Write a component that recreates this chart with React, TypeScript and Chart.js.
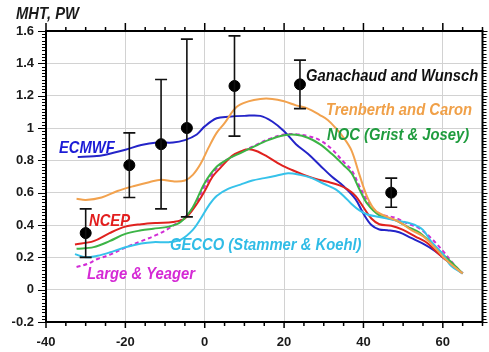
import React, { useEffect, useRef } from "react";
import { Chart, registerables } from "chart.js";

Chart.register(...registerables);

// Ganachaud and Wunsch estimates with error ranges
const gwLat = [-30, -19, -11, -4.5, 7.5, 24, 47];
const gwValue = [0.35, 0.77, 0.9, 1.0, 1.26, 1.27, 0.6];
const gwLow = [0.2, 0.57, 0.5, 0.45, 0.95, 1.12, 0.51];
const gwHigh = [0.5, 0.97, 1.3, 1.55, 1.57, 1.42, 0.69];

const ecmwfLat = [-32, -28, -25, -20, -16, -12, -8, -5, -2, 0, 3, 6, 10, 14, 17, 20, 23, 26, 29, 32, 35, 38, 40, 42, 44, 46, 49, 52, 55, 58, 61, 63, 65];
const ecmwfVal = [0.82, 0.825, 0.835, 0.865, 0.895, 0.91, 0.91, 0.925, 0.96, 1.01, 1.06, 1.07, 1.075, 1.075, 1.04, 0.98, 0.9, 0.84, 0.77, 0.7, 0.64, 0.56, 0.47, 0.4, 0.372, 0.368, 0.355, 0.32, 0.285, 0.24, 0.18, 0.14, 0.1];

const trenLat = [-32.3, -30, -26, -22, -18, -14, -11, -8, -5, -3, -1, 1, 3, 5, 8, 11, 14, 17, 20, 23, 26, 29, 31, 33, 35, 37, 39, 41, 43, 46, 49, 52, 55, 58, 61, 65];
const trenVal = [0.563, 0.555, 0.57, 0.61, 0.64, 0.665, 0.68, 0.67, 0.675, 0.71, 0.78, 0.88, 0.97, 1.03, 1.13, 1.165, 1.18, 1.18, 1.165, 1.14, 1.12, 1.08, 1.05, 1.0, 0.94, 0.86, 0.71, 0.57, 0.49, 0.45, 0.42, 0.37, 0.33, 0.26, 0.18, 0.1];

const nocLat = [-32.3, -28, -24, -20, -16, -13, -9, -6, -3, 0, 3, 6, 9, 12, 16, 20, 23, 26, 29, 32, 35, 37, 39, 41, 44, 48, 51, 54, 57, 60, 63, 65];
const nocVal = [0.253, 0.263, 0.3, 0.345, 0.367, 0.377, 0.39, 0.42, 0.51, 0.66, 0.76, 0.81, 0.845, 0.88, 0.925, 0.955, 0.958, 0.94, 0.9, 0.84, 0.77, 0.72, 0.62, 0.53, 0.46, 0.43, 0.39, 0.355, 0.29, 0.22, 0.15, 0.1];

const lyLat = [-32.3, -29.5, -27, -24, -20, -16, -12, -9, -6, -3, 0, 3, 6, 9, 12, 16, 20, 23, 26, 29, 32, 35, 37, 39, 41, 44, 48, 51, 54, 57, 60, 63, 65];
const lyVal = [0.14, 0.16, 0.19, 0.215, 0.26, 0.3, 0.34, 0.38, 0.43, 0.5, 0.64, 0.75, 0.81, 0.85, 0.885, 0.93, 0.96, 0.962, 0.95, 0.925, 0.87, 0.79, 0.74, 0.64, 0.55, 0.47, 0.445, 0.41, 0.38, 0.32, 0.24, 0.15, 0.1];

const ncepLat = [-32.7, -28, -24, -20, -16, -12, -8, -5, -2, 0, 2, 4, 7, 9, 11, 13, 16, 19, 22, 25, 28, 31, 34, 36, 38, 40, 42, 44, 47, 50, 53, 56, 59, 62, 65];
const ncepVal = [0.28, 0.3, 0.35, 0.39, 0.405, 0.413, 0.418, 0.44, 0.53, 0.61, 0.7, 0.755, 0.83, 0.855, 0.868, 0.858, 0.82, 0.775, 0.74, 0.71, 0.685, 0.667, 0.645, 0.62, 0.58, 0.51, 0.44, 0.405, 0.395, 0.37, 0.33, 0.29, 0.22, 0.16, 0.1];

const geccoLat = [-32.7, -30, -27, -24, -20, -16, -13, -9, -6, -3, -1, 1, 3, 6, 9, 12, 15, 18, 21, 24, 27, 30, 33, 35, 37, 39, 41, 44, 48, 51, 53, 55, 57, 60, 62, 65];
const geccoVal = [0.22, 0.2, 0.21, 0.23, 0.262, 0.285, 0.294, 0.294, 0.31, 0.37, 0.44, 0.52, 0.58, 0.625, 0.65, 0.675, 0.69, 0.705, 0.72, 0.71, 0.69, 0.655, 0.62, 0.58, 0.53, 0.49, 0.465, 0.45, 0.43, 0.415, 0.4, 0.37, 0.3, 0.22, 0.15, 0.1];

const seriesNames = [
  "Ganachaud and Wunsch",
  "ECMWF",
  "Trenberth and Caron",
  "NOC (Grist & Josey)",
  "Large & Yeager",
  "NCEP",
  "GECCO (Stammer & Koehl)",
];
const yAxisTitle = "MHT, PW";
const xTickStep = 20;
const yTickStep = 0.2;

const FONT = '"Liberation Sans", Arial, sans-serif';

const zip = (xs: number[], ys: number[]) => xs.map((x, i) => ({ x, y: ys[i] }));

export default function App() {
  const ref = useRef<HTMLCanvasElement>(null);

  useEffect(() => {
    if (!ref.current) return;

    const lineDs = (label: string, xs: number[], ys: number[], color: string, dash?: number[]) => ({
      type: "line" as const,
      label,
      data: zip(xs, ys),
      borderColor: color,
      backgroundColor: color,
      borderWidth: 2,
      borderDash: dash || [],
      pointRadius: 0,
      tension: 0.35,
      fill: false,
      order: 2,
    });

    const overlay = {
      id: "overlay",
      afterDatasetsDraw(chart: any) {
        const ctx = chart.ctx;
        const xs = chart.scales.x;
        const ys = chart.scales.y;
        const a = chart.chartArea;
        ctx.save();
        // error bars
        ctx.strokeStyle = "#111";
        ctx.lineWidth = 1.6;
        gwLat.forEach((lat, i) => {
          const px = xs.getPixelForValue(lat);
          const pl = ys.getPixelForValue(gwLow[i]);
          const ph = ys.getPixelForValue(gwHigh[i]);
          ctx.beginPath();
          ctx.moveTo(px, pl);
          ctx.lineTo(px, ph);
          ctx.moveTo(px - 6, pl);
          ctx.lineTo(px + 6, pl);
          ctx.moveTo(px - 6, ph);
          ctx.lineTo(px + 6, ph);
          ctx.stroke();
        });
        // frame
        ctx.strokeStyle = "#000";
        ctx.lineWidth = 2;
        ctx.strokeRect(a.left, a.top, a.right - a.left, a.bottom - a.top);
        // ticks
        ctx.lineWidth = 1.5;
        ctx.beginPath();
        for (let v = -40; v <= 70.001; v += 5) {
          const px = xs.getPixelForValue(v);
          const major = Math.abs(v % 20) < 1e-6;
          const l = major ? 6 : 4;
          ctx.moveTo(px, a.bottom);
          ctx.lineTo(px, a.bottom + l);
          ctx.moveTo(px, a.top);
          ctx.lineTo(px, a.top - (major ? 8 : 4));
        }
        ctx.stroke();
        ctx.lineWidth = 1;
        ctx.beginPath();
        for (let k = 0; k <= 90; k++) {
          const v = -0.2 + k * 0.02;
          const py = Math.round(ys.getPixelForValue(v)) + 0.5;
          const major = k % 10 === 0;
          const l = major ? 8 : 4;
          ctx.moveTo(a.left, py);
          ctx.lineTo(a.left - l, py);
          ctx.moveTo(a.right, py);
          ctx.lineTo(a.right + (major ? 5 : 4), py);
        }
        ctx.stroke();
        // text labels
        const txt = (s: string, x: number, y: number, color: string) => {
          ctx.save();
          ctx.font = `italic bold 17px ${FONT}`;
          ctx.fillStyle = color;
          ctx.textBaseline = "middle";
          ctx.textAlign = "left";
          ctx.translate(x, y);
          ctx.scale(0.87, 1);
          ctx.fillText(s, 0, 0);
          ctx.restore();
        };
        txt(yAxisTitle, 16, 14, "#1a1a1a");
        txt(seriesNames[0], 306, 76, "#111111");
        txt(seriesNames[1], 59, 148, "#1c1cd6");
        txt(seriesNames[2], 326, 110, "#f0a048");
        txt(seriesNames[3], 327, 135, "#1f9c3e");
        txt(seriesNames[4], 87, 274, "#d52ad5");
        txt(seriesNames[5], 89, 221, "#e21e1e");
        txt(seriesNames[6], 170, 245, "#30bce6");
        ctx.restore();
      },
    };

    const chart = new Chart(ref.current, {
      type: "scatter",
      data: {
        datasets: [
          {
            type: "scatter" as const,
            label: seriesNames[0],
            data: zip(gwLat, gwValue),
            backgroundColor: "#000",
            borderColor: "#000",
            pointRadius: 5.5,
            order: 0,
          },
          lineDs(seriesNames[2], trenLat, trenVal, "#f2a24e"),
          lineDs(seriesNames[6], geccoLat, geccoVal, "#36c2ea"),
          lineDs(seriesNames[3], nocLat, nocVal, "#3cb446"),
          lineDs(seriesNames[5], ncepLat, ncepVal, "#e0221e"),
          lineDs(seriesNames[1], ecmwfLat, ecmwfVal, "#2424c8"),
          lineDs(seriesNames[4], lyLat, lyVal, "#d22cd6", [4, 3]),
        ] as any,
      },
      options: {
        responsive: false,
        animation: false,
        layout: { padding: { left: 0, right: 6, top: 31, bottom: 0 } },
        plugins: { legend: { display: false }, tooltip: { enabled: false } },
        scales: {
          x: {
            type: "linear",
            min: -40,
            max: 70,
            border: { display: false },
            grid: { color: "#d2d2d2", lineWidth: 1, drawTicks: false },
            ticks: {
              stepSize: xTickStep,
              includeBounds: false,
              padding: 13,
              color: "#1a1a1a",
              font: { family: FONT, size: 13, weight: "bold" },
              maxRotation: 0,
            },
            afterFit: (s: any) => {
              s.height = 30;
            },
          },
          y: {
            type: "linear",
            min: -0.2,
            max: 1.6,
            border: { display: false },
            grid: { color: "#d2d2d2", lineWidth: 1, drawTicks: false },
            ticks: {
              stepSize: yTickStep,
              padding: 12,
              color: "#1a1a1a",
              font: { family: FONT, size: 13, weight: "bold" },
              callback: (v: any) => String(Number(Number(v).toFixed(1))),
            },
            afterFit: (s: any) => {
              s.width = 46;
            },
          },
        },
      } as any,
      plugins: [overlay],
    });
    return () => chart.destroy();
  }, []);

  return (
    <div style={{ position: "fixed", left: 0, top: 0, width: 489, height: 352, background: "#fff" }}>
      <canvas ref={ref} width={489} height={352} style={{ width: 489, height: 352 }} />
    </div>
  );
}
